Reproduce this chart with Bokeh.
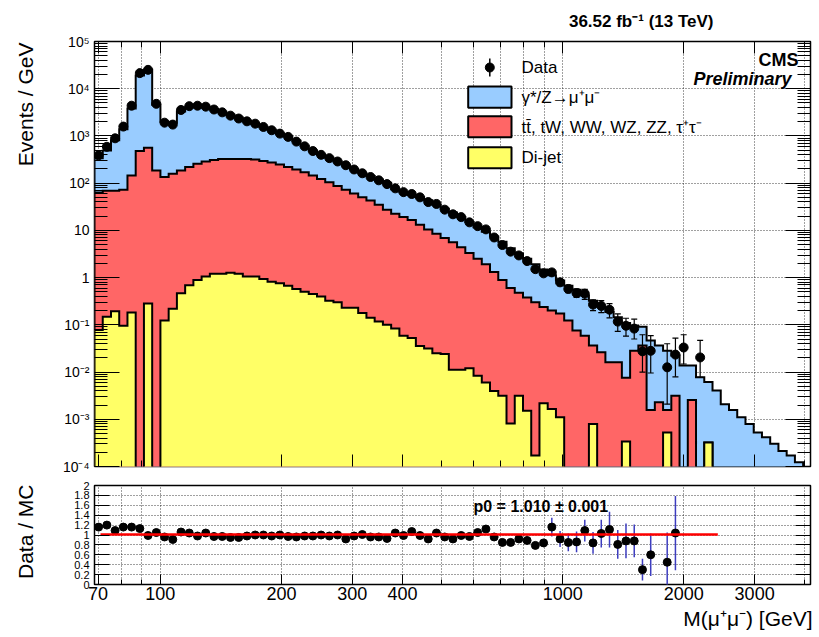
import numpy as np
from math import pi
from bokeh.plotting import figure
from bokeh.layouts import column, row
from bokeh.models import (Range1d, FixedTicker, LogAxis, LinearAxis, Title,
                          Whisker, TeeHead, ColumnDataSource, BasicTickFormatter)
from bokeh.core.properties import value
from bokeh.embed import file_html
from bokeh.resources import INLINE

FONT = "Liberation Sans"

# ---------------- data ----------------
mass_lo, mass_hi, n_bins = 68.6, 3960.0, 86          # log-binned histogram
edges = np.geomspace(mass_lo, mass_hi, n_bins + 1)

# top of the full stack (DY + ttbar-like + dijet), Events/GeV
mc_total = [339, 490, 813, 1380, 3800, 19100, 25100, 4570, 2000, 1910,
            3310, 4070, 4470, 3980, 3720, 3240, 2820, 2450, 2090, 1820,
            1550, 1350, 1120, 977, 794, 617, 490, 398, 347, 288,
            245, 200, 162, 141, 120, 102, 74.1, 64.6, 56.2, 50.1,
            43.7, 34.7, 28.8, 24.0, 19.1, 15.1, 11.7, 9.33, 7.41, 5.75,
            4.17, 3.24, 2.51, 1.91, 1.48, 1.12, 0.871, 0.676, 0.550, 0.417,
            0.324, 0.245, 0.186, 0.145, 0.110, 0.0955, 0.0912, 0.0468, 0.0363, 0.0282,
            0.0224, 0.0138, 0.0138, 0.00776, 0.00617, 0.00407, 0.00209, 0.00158, 0.00110, 0.000794,
            0.000525, 0.000417, 0.000302, 0.000214, 0.000170, 0.000123]
# top of the ttbar, tW, WW, WZ, ZZ, tautau (+ dijet) layer
mc_ttbar_top = [63.1, 69.2, 69.2, 72.4, 145, 479, 562, 186, 135, 158,
                186, 219, 257, 288, 309, 324, 324, 324, 324, 316,
                295, 275, 250, 220, 195, 170, 145, 123, 105, 87.1,
                72.4, 60.3, 50.1, 42.7, 34.7, 27.5, 22.4, 19.1, 16.6, 13.2,
                10.5, 8.51, 6.92, 5.62, 4.37, 3.31, 2.51, 1.91, 1.32, 0.891,
                0.603, 0.479, 0.380, 0.302, 0.240, 0.200, 0.174, 0.123, 0.0759, 0.0589,
                0.0363, 0.0263, 0.0162, 0.0162, 0.00759, 0.0282, 0.0363, 0.00158, 0.00229, 0.00158,
                0.00316, 0, 0.00257, 0, 0.000324, 0, 0, 0, 0, 0,
                0, 0, 0, 0, 0, 0]
# dijet layer
mc_dijet = [0.0776, 0.148, 0.195, 0.0955, 0.182, 0, 0.282, 0, 0.123, 0.219,
            0.468, 0.692, 0.891, 1.05, 1.20, 1.20, 1.26, 1.20, 1.05, 1.05,
            0.933, 0.813, 0.759, 0.676, 0.575, 0.501, 0.447, 0.398, 0.324, 0.302,
            0.229, 0.229, 0.178, 0.141, 0.117, 0.100, 0.0832, 0.0589, 0.0525, 0.0355,
            0.0316, 0.0251, 0.0240, 0.0112, 0.0112, 0.0120, 0.00832, 0.00603, 0.00398, 0.00316,
            0.000813, 0.00316, 0.00151, 0.000170, 0.00219, 0.00166, 0.00110, 0, 0, 0,
            0.000794, 0, 0, 0, 0.000339, 0, 0, 0, 0, 0.000525,
            0, 0, 0, 0, 0.000324, 0, 0, 0, 0, 0,
            0, 0, 0, 0, 0, 0]
data = [389, 589, 891, 1580, 4370, 21400, 25100, 4790, 1910, 1740,
        3550, 4270, 4370, 4170, 3630, 3160, 2690, 2340, 2040, 1820,
        1550, 1320, 1120, 955, 759, 603, 479, 398, 339, 288,
        240, 195, 162, 135, 115, 95.5, 77.6, 64.6, 58.9, 50.1,
        39.8, 36.3, 27.5, 21.9, 19.1, 14.8, 12.3, 10.5, 7.08, 4.90,
        3.55, 2.95, 2.24, 1.51, 1.23, 1.29, 0.794, 0.575, 0.468, 0.457,
        0.269, 0.251, 0.209, 0.117, 0.0955, 0.0832, 0.0275, 0.0282, 0, 0.0126,
        0.0234, 0.0331, 0, 0.0204, 0, 0, 0, 0, 0, 0,
        0, 0, 0, 0, 0, 0]
err_bins = [55, 56, 57, 58, 59, 60, 61, 62, 63, 64, 65, 66, 67, 69, 70, 71, 73]
err_lo = [1.12, 0.676, 0.479, 0.380, 0.347, 0.200, 0.182, 0.141, 0.0724, 0.0575,
          0.0501, 0.0100, 0.00955, 0.00209, 0.00794, 0.0148, 0.00776]
err_hi = [1.48, 0.933, 0.692, 0.575, 0.562, 0.339, 0.324, 0.282, 0.170, 0.138,
          0.132, 0.0617, 0.0589, 0.0398, 0.0525, 0.0617, 0.0468]

ratio = [1.16, 1.20, 1.09, 1.16, 1.16, 1.13, 0.99, 1.05, 0.96, 0.91,
         1.06, 1.04, 0.98, 1.04, 0.97, 0.97, 0.95, 0.95, 0.98, 1.00,
         1.00, 0.98, 1.00, 0.97, 0.96, 0.98, 0.98, 1.00, 0.98, 1.00,
         0.92, 0.98, 1.01, 0.96, 0.96, 0.93, 1.04, 0.99, 1.07, 0.99,
         0.92, 1.04, 0.96, 0.92, 0.99, 0.97, 1.05, 1.12, 0.96, 0.85,
         0.85, 0.92, 0.89, 0.79, 0.84, 1.16, 0.92, 0.85, 0.86, 1.09,
         0.84, 1.03, 1.11, 0.81, 0.88, 0.88, 0.30, 0.60, None, 0.45,
         1.04, None, None, None, None, None, None, None, None, None,
         None, None, None, None, None, None]
ratio_err = [0.01, 0.01, 0.01, 0.01, 0.01, 0.01, 0.01, 0.01, 0.01, 0.01,
             0.01, 0.01, 0.01, 0.01, 0.01, 0.01, 0.01, 0.01, 0.01, 0.01,
             0.01, 0.01, 0.01, 0.01, 0.01, 0.01, 0.01, 0.01, 0.01, 0.01,
             0.015, 0.015, 0.015, 0.015, 0.015, 0.015, 0.015, 0.015, 0.015, 0.015,
             0.03, 0.03, 0.03, 0.03, 0.03, 0.04, 0.04, 0.04, 0.04, 0.04,
             0.07, 0.07, 0.07, 0.07, 0.07, 0.19, 0.16, 0.18, 0.21, 0.22,
             0.22, 0.28, 0.36, 0.29, 0.35, 0.33, 0.22, 0.43, None, 0.60,
             0.75, None, None, None, None, None, None, None, None, None,
             None, None, None, None, None, None]
fit_p0, fit_p0_err = 1.010, 0.001
fit_lo, fit_hi = 71.0, 2430.0

x_major = [70, 100, 200, 300, 400, 1000, 2000, 3000]
x_minor = [80, 90, 500, 600, 700, 800, 900, 4000]
y_major = [1e-4, 1e-3, 1e-2, 1e-1, 1, 10, 100, 1e3, 1e4, 1e5]
y_labels = ["10⁻⁴", "10⁻³", "10⁻²", "10⁻¹", "1", "10", "10²", "10³", "10⁴", "10⁵"]
ratio_ticks = [0, 0.2, 0.4, 0.6, 0.8, 1, 1.2, 1.4, 1.6, 1.8, 2]

legend_labels = ["Data", "γ*/Z→μ⁺μ⁻", "tt̄, tW, WW, WZ, ZZ, τ⁺τ⁻", "Di-jet"]
BLUE, RED, YELLOW = "#99ccff", "#ff6666", "#ffff66"
ERRBLUE = "#3d3dbf"

# ---------------- geometry ----------------
X_START, X_END = 68.6, 4130.0
LW = 50                   # width of the strip that carries the y titles
FL, FW = 94, 716          # frame left / width (px, whole page)
FT, FH = 41, 425          # upper frame top / height
RT, RH = 485, 99          # ratio frame top / height
W = 819
H1 = 476
H2 = 637 - H1

LX0, LX1 = np.log10(X_START), np.log10(X_END)
def fx(px):
    return 10 ** (LX0 + (px - FL) / FW * (LX1 - LX0))
def fy(py):
    return 10 ** (5 - (py - FT) / FH * 9)
def fr(py):
    return 2.0 * (RT + RH - py) / RH

centers = np.sqrt(edges[:-1] * edges[1:])
FLOOR = 1e-8

def step_outline(vals):
    xs, ys = [edges[0]], [FLOOR]
    for i, v in enumerate(vals):
        h = v if v > 0 else FLOOR
        xs += [edges[i], edges[i + 1]]
        ys += [h, h]
    xs.append(edges[-1]); ys.append(FLOOR)
    return xs, ys

xt = FixedTicker(ticks=x_major, minor_ticks=x_minor)
y_minor = [k * d for d in y_major[:-1] for k in range(2, 10)]
yt = FixedTicker(ticks=y_major, minor_ticks=y_minor)
x_over = {t: str(t) for t in x_major}
y_over = dict(zip(y_major, y_labels))

def style_axis(ax, tin, minin, size=None, standoff=5, over=None):
    ax.axis_line_color = None
    ax.major_tick_in = tin
    ax.major_tick_out = 0
    ax.minor_tick_in = minin
    ax.minor_tick_out = 0
    ax.major_tick_line_color = "black"
    ax.minor_tick_line_color = "black" if minin else None
    ax.major_label_text_font = FONT
    ax.formatter = BasicTickFormatter()
    if size:
        ax.major_label_text_color = "black"
        ax.major_label_text_font_size = size
        ax.major_label_standoff = standoff
        if over:
            ax.major_label_overrides = over
    else:
        ax.major_label_text_color = None
        ax.major_label_text_font_size = "1px"
        ax.major_label_standoff = 0

def style_grid(p):
    for g in (p.xgrid[0], p.ygrid[0]):
        g.grid_line_color = "black"
        g.grid_line_dash = "1 2"
        g.grid_line_width = 1
        g.grid_line_alpha = 0.75
    p.xgrid[0].minor_grid_line_color = "black"
    p.xgrid[0].minor_grid_line_dash = "1 2"
    p.xgrid[0].minor_grid_line_alpha = 0.75

def side_title(text, size, align, standoff, offset=0, style="normal", valign="bottom"):
    return Title(text=text, align=align, standoff=standoff, offset=offset,
                 vertical_align=valign, text_font=FONT, text_font_size=size,
                 text_font_style=style, text_color="black")

# ---------------- upper panel ----------------
p1 = figure(width=W - LW, height=H1, x_axis_type="log", y_axis_type="log",
            x_range=Range1d(X_START, X_END), y_range=Range1d(1e-4, 1e5),
            output_backend="svg", toolbar_location=None,
            min_border_left=FL - LW, min_border_right=W - FL - FW,
            min_border_top=FT, min_border_bottom=H1 - FT - FH)
p1.outline_line_color = "black"
p1.outline_line_width = 1.5

p1.xaxis[0].ticker = xt
style_axis(p1.xaxis[0], 12, 6)
p1.yaxis[0].ticker = yt
style_axis(p1.yaxis[0], 25, 13, "14px", 5, y_over)
ax = LogAxis(ticker=yt); style_axis(ax, 25, 13); p1.add_layout(ax, "right")
ax = LogAxis(ticker=xt); style_axis(ax, 12, 6); p1.add_layout(ax, "above")
style_grid(p1)

for vals, col in ((mc_total, BLUE), (mc_ttbar_top, RED), (mc_dijet, YELLOW)):
    xs, ys = step_outline(vals)
    p1.patch(xs, ys, fill_color=col, line_color="black", line_width=2, line_join="miter")

d = np.array(data, dtype=float)
m = d > 0
esrc = ColumnDataSource(dict(x=centers[err_bins], lo=err_lo, hi=err_hi))
wh = Whisker(source=esrc, base="x", lower="lo", upper="hi", dimension="height",
             line_color="black", line_width=1.2, level="overlay",
             lower_head=TeeHead(size=6, line_color="black", line_width=1.2),
             upper_head=TeeHead(size=6, line_color="black", line_width=1.2))
p1.add_layout(wh)
p1.scatter(centers[m], d[m], size=9, color="black", marker="circle")

# legend
p1.segment(x0=[fx(489.3)], y0=[fy(58)], x1=[fx(489.3)], y1=[fy(76)], line_color="black", line_width=1.5)
p1.scatter([fx(489.3)], [fy(67)], size=9, color="black")
for (top, bot), col in zip(((86, 107.3), (115.7, 136.7), (146.7, 167.7)), (BLUE, RED, YELLOW)):
    p1.quad(left=[fx(467.7)], right=[fx(511)], top=[fy(top)], bottom=[fy(bot)],
            fill_color=col, line_color="black", line_width=2)
p1.text(x=[fx(521)] * 4, y=[fy(67), fy(97), fy(126.5), fy(157)], text=legend_labels,
        text_font=value(FONT), text_font_size="17px", text_baseline="middle",
        text_align="left", text_color="black")
p1.text(x=[fx(798)], y=[fy(59)], text=["CMS"], text_font=value(FONT),
        text_font_size="18px", text_font_style="bold", text_align="right",
        text_baseline="middle", text_color="black")
p1.text(x=[fx(791)], y=[fy(78.5)], text=["Preliminary"], text_font=value(FONT),
        text_font_size="18px", text_font_style="bold italic", text_align="right",
        text_baseline="middle", text_color="black")

p1.add_layout(side_title("36.52 fb⁻¹ (13 TeV)", "17px", "right", 18, offset=97,
                         style="bold", valign="top"), "above")

# ---------------- ratio panel ----------------
p2 = figure(width=W - LW, height=H2, x_axis_type="log",
            x_range=p1.x_range, y_range=Range1d(0, 2),
            output_backend="svg", toolbar_location=None,
            min_border_left=FL - LW, min_border_right=W - FL - FW,
            min_border_top=RT - H1, min_border_bottom=H2 - (RT - H1) - RH)
p2.outline_line_color = "black"
p2.outline_line_width = 1.5
p2.xaxis[0].ticker = xt
style_axis(p2.xaxis[0], 10, 5, "18px", 2, x_over)
rt = FixedTicker(ticks=ratio_ticks)
p2.yaxis[0].ticker = rt
style_axis(p2.yaxis[0], 15, 0, "11px", 5, {t: f"{t:g}" for t in ratio_ticks})
ax = LinearAxis(ticker=rt); style_axis(ax, 15, 0); p2.add_layout(ax, "right")
style_grid(p2)

r = np.array(ratio, dtype=float)
re = np.array(ratio_err, dtype=float)
mr = np.isfinite(r)
p2.segment(x0=centers[mr], y0=r[mr] - re[mr], x1=centers[mr], y1=r[mr] + re[mr],
           line_color=ERRBLUE, line_width=1.5)
p2.scatter(centers[mr], r[mr], size=8, color="black")
p2.line([fit_lo, fit_hi], [fit_p0, fit_p0], line_color="#ff0000", line_width=2.5)
p2.text(x=[fx(473)], y=[fr(506)], text=[f"p0 = {fit_p0:.3f} ± {fit_p0_err:.3f}"],
        text_font=value(FONT), text_font_size="16px", text_font_style="bold",
        text_baseline="middle", text_align="left", text_color="black")
p2.add_layout(side_title("M(μ⁺μ⁻) [GeV]", "21px", "right", 4, offset=-2), "below")

# ---------------- strip with the vertical axis titles ----------------
pl = figure(width=LW, height=H1 + H2, x_range=Range1d(0, LW), y_range=Range1d(H1 + H2, 0),
            output_backend="svg", toolbar_location=None,
            x_axis_location=None, y_axis_location=None,
            min_border_left=0, min_border_right=0, min_border_top=0, min_border_bottom=0)
pl.outline_line_color = None
pl.xgrid.visible = False
pl.ygrid.visible = False
pl.text(x=[25, 25], y=[FT + 1, RT - 1], text=["Events / GeV", "Data / MC"], angle=pi / 2,
        text_font=value(FONT), text_font_size="21px", text_align="right",
        text_baseline="middle", text_color="black")

layout = row(pl, column(p1, p2))
open("out.html", "w").write(file_html(layout, INLINE))
